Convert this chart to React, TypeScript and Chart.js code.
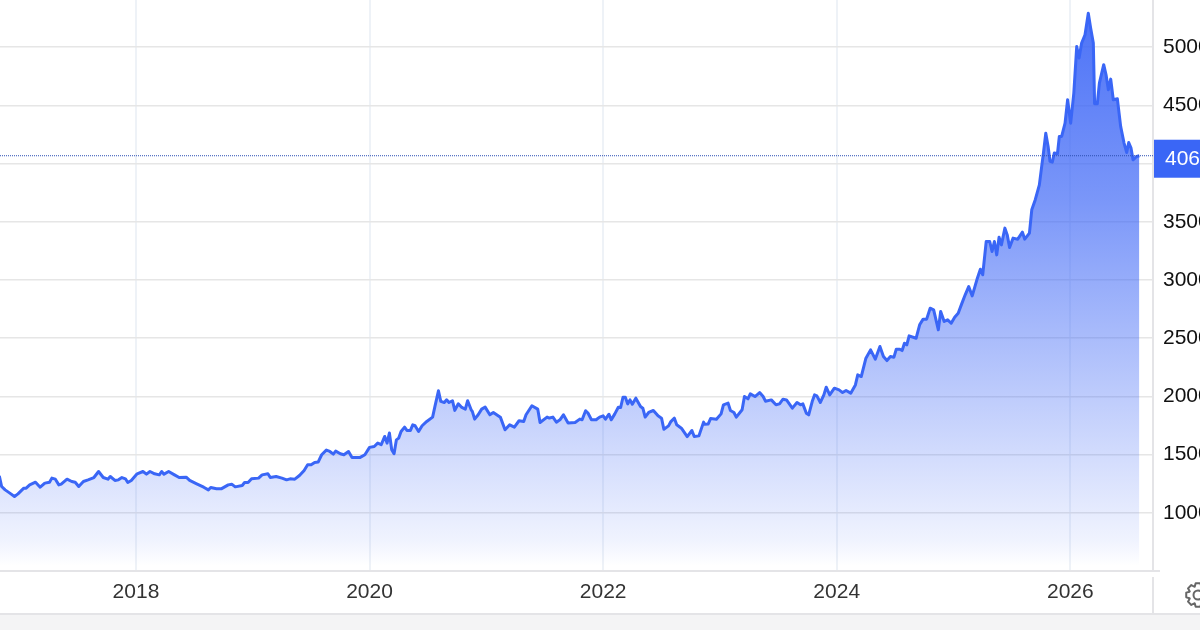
import React, { useEffect, useRef } from "react";
import { Chart, registerables } from "chart.js";

Chart.register(...registerables);

const years = [
  2016.83,2016.85,2016.88,2016.92,2016.96,2016.99,2017.04,2017.06,2017.09,2017.14,2017.18,2017.22,2017.26,2017.28,2017.31,2017.34,2017.36,2017.41,2017.45,2017.48,2017.51,2017.55,2017.59,2017.64,2017.68,2017.72,2017.76,2017.78,2017.82,2017.85,2017.88,2017.91,2017.93,2017.96,
  2018.01,2018.06,2018.09,2018.12,2018.16,2018.20,2018.22,2018.24,2018.28,2018.33,2018.37,2018.43,2018.46,2018.52,2018.58,2018.62,2018.64,2018.69,2018.73,2018.79,2018.82,2018.85,2018.91,2018.93,2018.96,2018.99,
  2019.05,2019.08,2019.13,2019.15,2019.20,2019.25,2019.29,2019.32,2019.36,2019.40,2019.44,2019.47,2019.50,2019.53,2019.56,2019.59,2019.63,2019.66,2019.69,2019.71,2019.75,2019.78,2019.82,2019.85,2019.92,2019.96,
  2020.00,2020.04,2020.07,2020.10,2020.13,2020.15,2020.17,2020.19,2020.21,2020.23,2020.25,2020.27,2020.30,2020.32,2020.35,2020.37,2020.39,2020.42,2020.45,2020.49,2020.54,2020.56,2020.59,2020.61,2020.64,2020.66,2020.68,2020.71,2020.73,2020.76,2020.79,2020.82,2020.84,2020.87,2020.88,2020.90,2020.93,2020.96,2020.99,
  2021.03,2021.06,2021.12,2021.16,2021.20,2021.24,2021.28,2021.32,2021.34,2021.39,2021.44,2021.46,2021.52,2021.54,2021.57,2021.60,2021.63,2021.66,2021.70,2021.76,2021.80,2021.82,2021.85,2021.87,2021.90,2021.94,2021.97,
  2022.00,2022.02,2022.05,2022.07,2022.10,2022.13,2022.15,2022.17,2022.19,2022.21,2022.23,2022.25,2022.28,2022.32,2022.34,2022.36,2022.39,2022.43,2022.47,2022.50,2022.52,2022.56,2022.58,2022.61,2022.63,2022.67,2022.72,2022.76,2022.78,2022.82,2022.86,2022.87,2022.90,2022.92,2022.97,
  2023.01,2023.03,2023.07,2023.09,2023.12,2023.14,2023.19,2023.21,2023.24,2023.26,2023.30,2023.34,2023.37,2023.39,2023.44,2023.48,2023.51,2023.54,2023.57,2023.62,2023.66,2023.69,2023.71,2023.74,2023.76,2023.79,2023.81,2023.83,2023.86,2023.89,2023.91,2023.94,2023.98,
  2024.02,2024.05,2024.08,2024.12,2024.16,2024.18,2024.21,2024.25,2024.29,2024.33,2024.37,2024.40,2024.43,2024.46,2024.49,2024.51,2024.54,2024.56,2024.58,2024.60,2024.62,2024.68,2024.71,2024.74,2024.77,2024.80,2024.83,2024.87,2024.89,2024.92,2024.95,2024.98,
  2025.01,2025.04,2025.07,2025.10,2025.13,2025.16,2025.20,2025.23,2025.25,2025.28,2025.31,2025.33,2025.35,2025.37,2025.39,2025.41,2025.44,2025.46,2025.48,2025.51,2025.55,2025.59,2025.61,2025.65,2025.67,2025.70,2025.735,2025.755,2025.77,2025.79,2025.81,2025.826,2025.846,2025.863,2025.89,2025.906,2025.926,2025.955,2025.977,
  2026.003,2026.03,2026.055,2026.075,2026.097,2026.126,2026.154,2026.174,2026.197,2026.208,2026.231,2026.249,2026.286,2026.306,2026.326,2026.346,2026.368,2026.403,2026.431,2026.46,2026.483,2026.50,2026.52,2026.537,2026.568,2026.591,
];

const prices = [
  1318,1226,1197,1169,1140,1163,1212,1212,1240,1263,1220,1255,1263,1298,1289,1240,1246,1289,1269,1263,1226,1269,1283,1303,1355,1303,1289,1312,1278,1283,1303,1292,1260,1278,
  1335,1355,1332,1355,1335,1326,1355,1332,1355,1326,1303,1306,1278,1249,1220,1197,1217,1206,1206,1240,1246,1223,1235,1260,1260,1292,
  1298,1326,1335,1303,1312,1298,1283,1292,1289,1320,1364,1413,1413,1433,1436,1499,1539,1527,1504,1530,1507,1499,1527,1476,1476,1499,
  1562,1570,1599,1585,1656,1599,1685,1542,1507,1627,1642,1699,1736,1708,1708,1756,1748,1699,1748,1785,1822,1914,2048,1957,1948,1971,1948,1963,1880,1937,1905,1891,1963,1885,1871,1805,1842,1891,1908,
  1842,1862,1822,1713,1756,1736,1791,1785,1842,1920,1891,1776,1822,1814,1822,1779,1799,1842,1771,1776,1805,1799,1877,1857,1799,1799,1822,
  1833,1804,1847,1799,1850,1907,1905,1993,1993,1936,1970,1933,1985,1913,1899,1822,1862,1879,1833,1813,1718,1747,1784,1813,1756,1727,1655,1707,1655,1661,1779,1761,1764,1810,1804,
  1850,1928,1942,1879,1862,1822,1885,1999,1979,2022,1999,2033,1999,1959,1970,1928,1936,1976,1970,1899,1948,1928,1936,1856,1842,1956,2013,2005,1948,2013,2079,2013,2071,
  2056,2033,2051,2028,2099,2185,2171,2328,2400,2320,2429,2343,2308,2343,2337,2406,2406,2394,2457,2443,2520,2500,2615,2664,2664,2758,2744,2572,2730,2644,2658,2629,
  2681,2715,2795,2873,2944,2864,3002,3093,3045,3331,3331,3245,3331,3216,3368,3302,3446,3388,3279,3360,3351,3411,3351,3403,3603,3690,3818,3976,4091,4262,4148,4019,4013,4091,4085,4234,4234,4348,4549,
  4348,4606,5007,4907,5036,5107,5293,5165,5036,4514,4514,4692,4850,4764,4635,4726,4549,4557,4320,4177,4096,4182,4133,4033,4062,4068,
];

const yearTicks = [2018, 2020, 2022, 2024, 2026];
const priceTicks = [500, 1000, 1500, 2000, 2500, 3000, 3500, 4000, 4500, 5000];
const hiddenPriceTicks = [500, 4000];

const FONT = '"Liberation Sans", Arial, sans-serif';
const BLUE = "#3a66f6";

const frame = {
  id: "frame",
  beforeDraw(chart: any) {
    const { ctx, width, height } = chart;
    ctx.save();
    ctx.fillStyle = "#ffffff";
    ctx.fillRect(0, 0, width, height);
    ctx.fillStyle = "#f4f4f5";
    ctx.fillRect(0, 615, width, height - 615);
    ctx.restore();
  },
  afterDraw(chart: any) {
    const { ctx, width, scales } = chart;
    const last = prices[prices.length - 1];
    const y = scales.y.getPixelForValue(last);
    ctx.save();
    ctx.strokeStyle = "#e4e4e7";
    ctx.lineWidth = 2;
    ctx.beginPath();
    ctx.moveTo(0, 614);
    ctx.lineTo(width, 614);
    ctx.moveTo(1153, 577);
    ctx.lineTo(1153, 614);
    ctx.moveTo(1153, 571);
    ctx.lineTo(1160, 571);
    ctx.stroke();

    ctx.fillStyle = BLUE;
    ctx.fillRect(1154, y - 16, 46, 38);
    ctx.fillStyle = "#ffffff";
    ctx.font = "21px " + FONT;
    ctx.textAlign = "left";
    ctx.textBaseline = "middle";
    ctx.fillText(String(last), 1165, y + 3.5);

    const cx = 1198, cy = 595, teeth = 8;
    ctx.strokeStyle = "#666666";
    ctx.lineWidth = 2;
    ctx.lineJoin = "round";
    ctx.beginPath();
    for (let i = 0; i < teeth; i++) {
      const a = (i / teeth) * Math.PI * 2;
      const s = Math.PI / teeth;
      const pts: [number, number][] = [[9, -s * 0.95], [12, -s * 0.5], [12, s * 0.5], [9, s * 0.95]];
      pts.forEach(([r, d], k) => {
        const px = cx + r * Math.cos(a + d);
        const py = cy + r * Math.sin(a + d);
        if (i === 0 && k === 0) ctx.moveTo(px, py);
        else ctx.lineTo(px, py);
      });
    }
    ctx.closePath();
    ctx.moveTo(cx + 4.5, cy);
    ctx.arc(cx, cy, 4.5, 0, Math.PI * 2);
    ctx.stroke();
    ctx.restore();
  },
};

export default function App() {
  const ref = useRef<HTMLCanvasElement>(null);

  useEffect(() => {
    document.body.style.margin = "0";
    const canvas = ref.current!;
    const ctx = canvas.getContext("2d")!;
    const grad = ctx.createLinearGradient(0, 0, 0, 566);
    const c = (a: number) => `rgba(58,100,246,${a})`;
    grad.addColorStop(0, c(0.92));
    grad.addColorStop(200 / 566, c(0.675));
    grad.addColorStop(390 / 566, c(0.34));
    grad.addColorStop(460 / 566, c(0.22));
    grad.addColorStop(540 / 566, c(0.08));
    grad.addColorStop(1, c(0));

    const last = prices[prices.length - 1];
    const xMin = 2016.836;
    const xMax = 2026.708;

    const chart = new Chart(canvas, {
      type: "line",
      data: {
        datasets: [
          {
            data: [{ x: xMin, y: last }, { x: xMax, y: last }],
            borderColor: "#2c4fb5",
            borderWidth: 1,
            borderDash: [1, 1],
            pointRadius: 0,
            fill: false,
          },
          {
            data: years.map((x, i) => ({ x, y: prices[i] })),
            borderColor: BLUE,
            borderWidth: 3,
            backgroundColor: grad,
            fill: "start",
            pointRadius: 0,
            tension: 0,
            borderJoinStyle: "round",
          },
        ],
      },
      options: {
        responsive: false,
        animation: false,
        layout: { padding: 0 },
        plugins: { legend: { display: false }, tooltip: { enabled: false } },
        scales: {
          x: {
            type: "linear",
            min: xMin,
            max: xMax,
            afterBuildTicks: (axis: any) => { axis.ticks = yearTicks.map((value) => ({ value })); },
            afterFit: (axis: any) => { axis.height = 59; axis.paddingLeft = 0; axis.paddingRight = 0; },
            grid: { color: "#eef2f7", lineWidth: 2, drawTicks: false },
            border: { color: "#e4e4e7", width: 2 },
            ticks: {
              color: "#333333",
              padding: 9,
              maxRotation: 0,
              autoSkip: false,
              font: { family: FONT, size: 21 },
              callback: (v: any) => String(v),
            },
          },
          y: {
            type: "linear",
            position: "right",
            min: 500,
            max: 5406,
            afterBuildTicks: (axis: any) => { axis.ticks = priceTicks.map((value) => ({ value })); },
            afterFit: (axis: any) => { axis.width = 47; axis.paddingTop = 0; axis.paddingBottom = 0; },
            grid: { color: "#e6e6e6", lineWidth: 1.6, drawTicks: false },
            border: { color: "#e4e4e7", width: 2 },
            ticks: {
              color: "#111111",
              padding: 10,
              autoSkip: false,
              font: { family: FONT, size: 21 },
              callback: (v: any) => (hiddenPriceTicks.includes(v) ? "" : String(v)),
            },
          },
        },
      },
      plugins: [frame],
    } as any);
    return () => chart.destroy();
  }, []);

  return <canvas ref={ref} width={1200} height={630} style={{ display: "block" }} />;
}
